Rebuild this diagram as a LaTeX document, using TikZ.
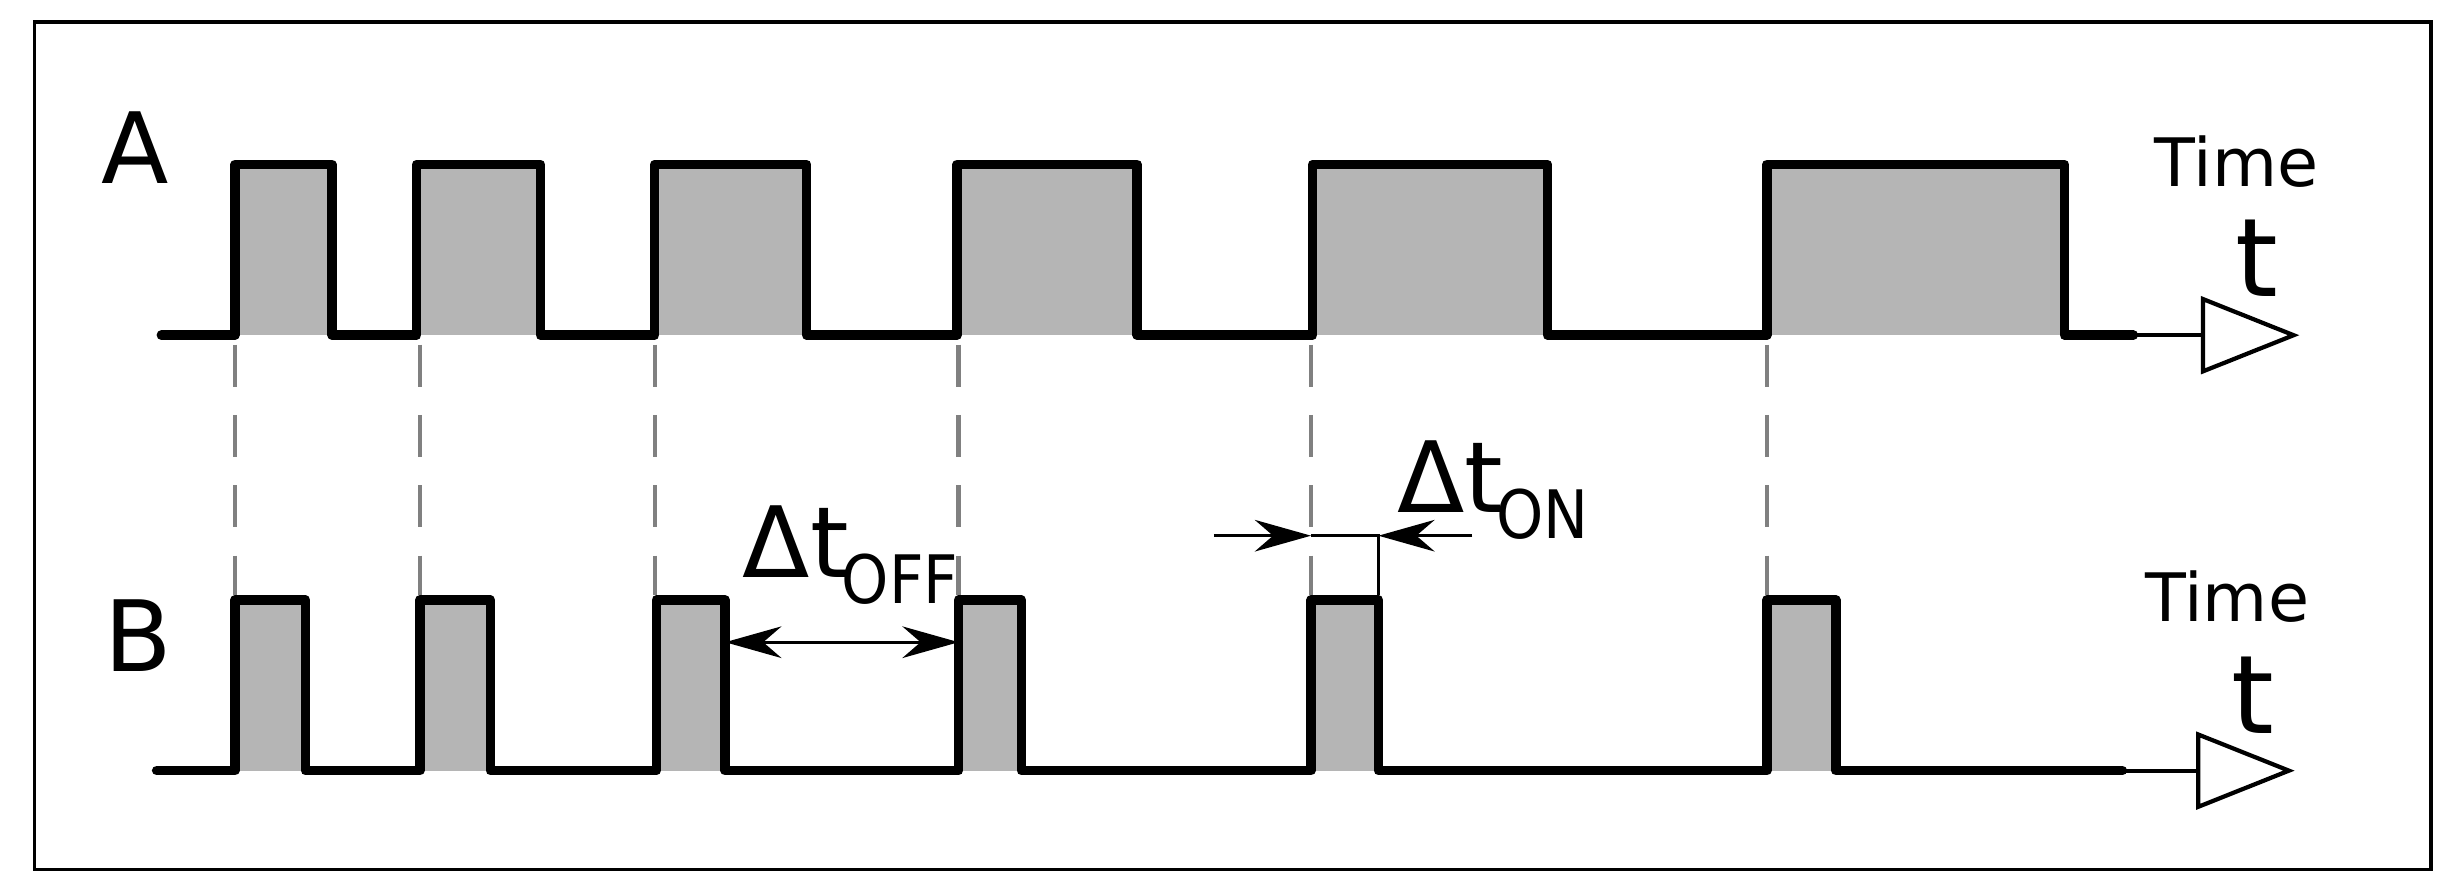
\documentclass[tikz,border=0pt]{standalone}
\usepackage{fontspec}
\setmainfont{DejaVu Sans}
\newfontfamily\condf{DejaVu Sans Condensed}
\usetikzlibrary{arrows.meta,calc}
\definecolor{pg}{HTML}{B5B5B5}
\begin{document}
\begin{tikzpicture}[x=0.01566cm,y=-0.01566cm,
  sig/.style={line width=2.7pt,line join=round,line cap=round},
  pul/.style={fill=pg,draw=none},
  dsh/.style={gray,line width=1.2pt,dash pattern=on 12pt off 8pt},
  axis/.style={line width=1.2pt,-{Triangle[open,length=28pt,width=22pt,line width=1.2pt]}},
  dim/.style={line width=0.8pt},
  tip/.style={-{Stealth[length=16pt,width=9pt]}},
  lbl/.style={inner sep=0pt,font=\fontsize{28}{30}\selectfont},
  tm/.style={inner sep=0pt,font=\fontsize{19}{21}\selectfont},
  tt/.style={inner sep=0pt,font=\fontsize{31}{33}\selectfont},
  dl/.style={inner sep=0pt,font=\fontsize{28}{30}\selectfont},
  sub/.style={inner sep=0pt,font=\condf\fontsize{19}{21}\selectfont}]
\useasboundingbox (0,0) rectangle (1568,572);
\draw[line width=1pt] (22,14) rectangle (1552,555);
% A pulses
\foreach \a/\b in {150/212,266/345,418/515,611/726,838/988,1128/1318}{
  \fill[pul] (\a,105) rectangle (\b,214);}
\draw[sig] (103,214) -- (150,214) -- (150,105) -- (212,105) -- (212,214)
 -- (266,214) -- (266,105) -- (345,105) -- (345,214)
 -- (418,214) -- (418,105) -- (515,105) -- (515,214)
 -- (611,214) -- (611,105) -- (726,105) -- (726,214)
 -- (838,214) -- (838,105) -- (988,105) -- (988,214)
 -- (1128,214) -- (1128,105) -- (1318,105) -- (1318,214) -- (1362,214);
\coordinate (a0) at (1362,214); \coordinate (a1) at (1468,214);
\draw[axis] (a0) -- (a1);
% B pulses
\foreach \a/\b in {150/195,268/313,419/463,612/652,837/880,1128/1172}{
  \fill[pul] (\a,383) rectangle (\b,492);}
\draw[sig] (100,492) -- (150,492) -- (150,383) -- (195,383) -- (195,492)
 -- (268,492) -- (268,383) -- (313,383) -- (313,492)
 -- (419,492) -- (419,383) -- (463,383) -- (463,492)
 -- (612,492) -- (612,383) -- (652,383) -- (652,492)
 -- (837,492) -- (837,383) -- (880,383) -- (880,492)
 -- (1128,492) -- (1128,383) -- (1172,383) -- (1172,492) -- (1355,492);
\coordinate (b0) at (1355,492); \coordinate (b1) at (1465,492);
\draw[axis] (b0) -- (b1);
% dashed guides
\foreach \x in {150,268,418,612,837,1128}{
  \draw[dsh] (\x,220) -- (\x,380);}
% labels
\node[lbl] (A) at (86,94) {A};
\node[lbl] (B) at (88,406) {B};
\node[tm] (T1) at (1428,103) {Time};
\node[tt] (t1) at (1441,165) {t};
\node[tm] (T2) at (1422,381) {Time};
\node[tt] (t2) at (1438,444) {t};
% dt off
\coordinate (o1) at (463,410); \coordinate (o2) at (612,410);
\coordinate (om) at ($(o1)!0.5!(o2)$);
\draw[dim,tip] (om) -- (o1);
\draw[dim,tip] (om) -- (o2);
\node[dl] (doff) at (508,346) {Δt};
\node[sub,anchor=west] (soff) at (537,370) {OFF};
% dt on
\coordinate (n0) at (775,342); \coordinate (n1) at (837,342);
\coordinate (n2) at (880,342); \coordinate (n3) at (940,342);
\coordinate (n4) at (880,380);
\draw[dim,tip] (n0) -- (n1);
\draw[dim,tip] (n3) -- (n2);
\draw[dim] (n1) -- (n2) -- (n4);
\node[dl] (don) at (926,304) {Δt};
\node[sub,anchor=west] (son) at (955,328) {ON};
\end{tikzpicture}
\end{document}
